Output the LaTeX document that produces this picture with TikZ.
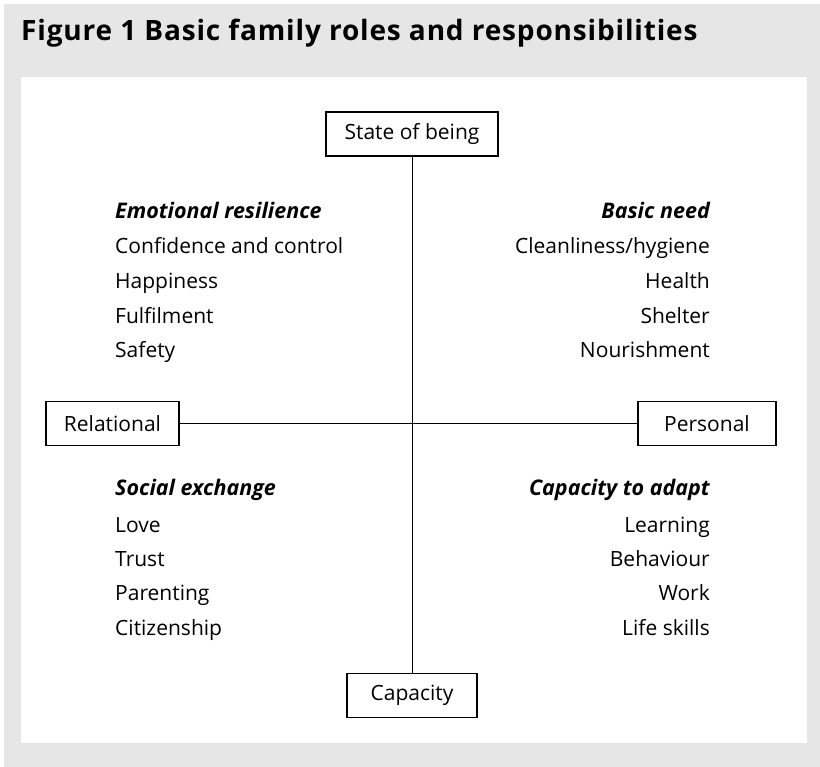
\documentclass[tikz,border=0pt]{standalone}
\usepackage{fontspec}
\setmainfont{Open Sans}
\newfontfamily\titlefont[LetterSpace=3.0]{Open Sans}
\usetikzlibrary{positioning}
\definecolor{panelgray}{RGB}{230,230,230}

\begin{document}
\begin{tikzpicture} [
    x=1pt, y=-1pt,
    every node/.style = {font=\fontsize{21}{25}\selectfont},
    axisbox/.style = {draw, line width=1.1pt, minimum height=44pt, inner sep=0pt},
    heading/.style = {font=\fontsize{21.5}{25}\selectfont\bfseries\itshape},
    left item/.style = {anchor=base west, inner sep=0pt},
    right item/.style = {anchor=base east, inner sep=0pt}]
    \useasboundingbox (0,0) rectangle (820,767);
    \fill [panelgray] (4,4) rectangle (820,767);
    \fill [white] (21,77) rectangle (807,743);

    \node (title) [anchor=base west, inner sep=0pt,
        font=\titlefont\fontsize{28}{32}\selectfont\bfseries] at (21,41)
        {Figure 1 Basic family roles and responsibilities};

    \node (sob) [axisbox, minimum width=172pt] at (412,134) {State of being};
    \node (rel) [axisbox, minimum width=133pt] at (112.5,423.5) {Relational};
    \node (per) [axisbox, minimum width=138pt] at (707,423.5) {Personal};
    \node (cap) [axisbox, minimum width=130pt] at (412,695.5) {Capacity};

    \node (er) [heading, left item] at (115,219) {Emotional resilience};
    \node (er1) [left item] at (115,254) {Confidence and control};
    \node (er2) [left item] at (115,289) {Happiness};
    \node (er3) [left item] at (115,324) {Fulfilment};
    \node (er4) [left item] at (115,358) {Safety};

    \node (bn) [heading, right item] at (710,219) {Basic need};
    \node (bn1) [right item] at (710,254) {Cleanliness/hygiene};
    \node (bn2) [right item] at (710,289) {Health};
    \node (bn3) [right item] at (710,324) {Shelter};
    \node (bn4) [right item] at (710,358) {Nourishment};

    \node (se) [heading, left item] at (115,496) {Social exchange};
    \node (se1) [left item] at (115,532) {Love};
    \node (se2) [left item] at (115,566) {Trust};
    \node (se3) [left item] at (115,600) {Parenting};
    \node (se4) [left item] at (115,635) {Citizenship};

    \node (ca) [heading, right item] at (710,496) {Capacity to adapt};
    \node (ca1) [right item] at (710,532) {Learning};
    \node (ca2) [right item] at (710,566) {Behaviour};
    \node (ca3) [right item] at (710,600) {Work};
    \node (ca4) [right item] at (710,635) {Life skills};

    \path [line width=1pt]
        (sob) edge (cap)
        (rel) edge (per);
\end{tikzpicture}
\end{document}
